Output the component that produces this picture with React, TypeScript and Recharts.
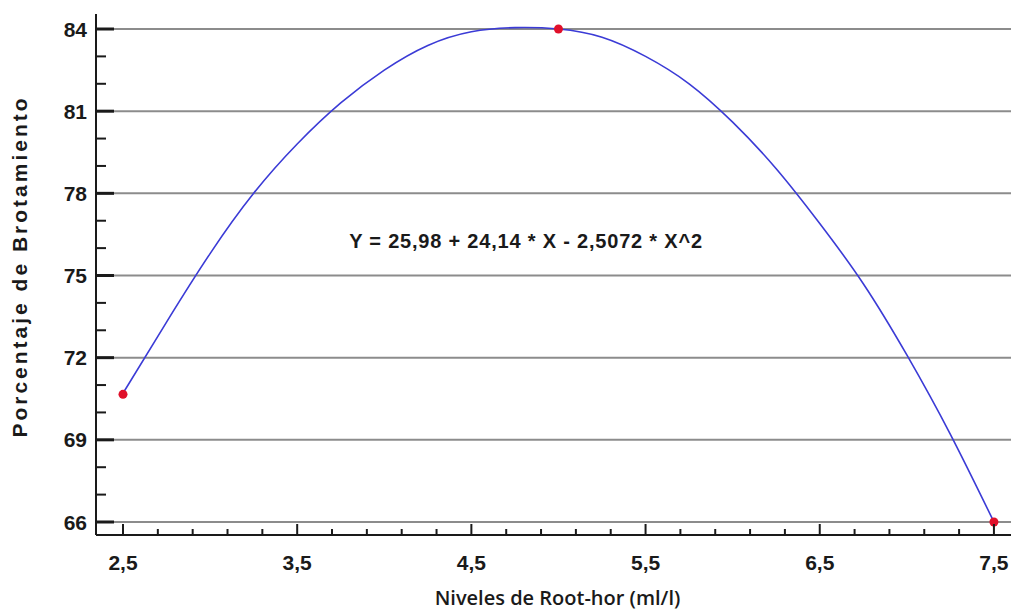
import { ComposedChart, Line, Scatter, XAxis, YAxis, ReferenceLine, Label } from "recharts"

// fitted curve
const curveX = [2.5, 2.75, 3.0, 3.25, 3.5, 3.75, 4.0, 4.25, 4.5, 4.75, 5.0, 5.25, 5.5, 5.75, 6.0, 6.25, 6.5, 6.75, 7.0, 7.25, 7.5]
const curveY = [70.7, 73.3, 75.8, 78.0, 79.8, 81.3, 82.5, 83.4, 83.9, 84.05, 84.0, 83.7, 83.0, 82.0, 80.6, 78.9, 76.9, 74.7, 72.1, 69.2, 66.0]

// observed means
const obsX = [2.5, 5.0, 7.5]
const obsY = [70.66, 84.0, 66.0]

const xTicks = [2.5, 2.7, 2.9, 3.1, 3.3, 3.5, 3.7, 3.9, 4.1, 4.3, 4.5, 4.7, 4.9, 5.1, 5.3, 5.5, 5.7, 5.9, 6.1, 6.3, 6.5, 6.7, 6.9, 7.1, 7.3, 7.5]
const yTicks = [66, 67, 68, 69, 70, 71, 72, 73, 74, 75, 76, 77, 78, 79, 80, 81, 82, 83, 84]
const gridY = [66, 69, 72, 75, 78, 81, 84]

const curve = curveX.map((x, i) => ({ x, y: curveY[i] }))
const obs = obsX.map((x, i) => ({ x, y: obsY[i] }))

const FONT = "'Liberation Sans', Arial, sans-serif"
const INK = "#1a1a1a"

const isMajorX = (v: number) => {
  const r = Math.abs(v - 2.5) % 1
  return r < 1e-6 || 1 - r < 1e-6
}
const isMajorY = (v: number) => (v - 66) % 3 === 0
const fmt = (v: number) => v.toFixed(1).replace(".", ",")

function BottomTick(p: any) {
  const v = p.payload.value
  const major = isMajorX(v)
  return (
    <g>
      <line x1={p.x} x2={p.x} y1={p.y} y2={p.y - (major ? 11 : 6)} stroke={INK} strokeWidth={2} />
      {major && (
        <text x={p.x} y={p.y + 35} textAnchor="middle" fontFamily={FONT} fontWeight="bold" fontSize={21} fill={INK}>
          {fmt(v)}
        </text>
      )}
    </g>
  )
}

function TopTick(p: any) {
  const major = isMajorX(p.payload.value)
  return <line x1={p.x} x2={p.x} y1={p.y} y2={p.y + (major ? 11 : 6)} stroke={INK} strokeWidth={2} />
}

function LeftTick(p: any) {
  const v = p.payload.value
  const major = isMajorY(v)
  return (
    <g>
      <line x1={p.x} x2={p.x + (major ? 18 : 10)} y1={p.y} y2={p.y} stroke={INK} strokeWidth={major ? 3 : 2} />
      {major && (
        <text x={p.x - 9} y={p.y} dy="0.36em" textAnchor="end" fontFamily={FONT} fontWeight="bold" fontSize={21} fill={INK}>
          {v}
        </text>
      )}
    </g>
  )
}

function RightTick(p: any) {
  const major = isMajorY(p.payload.value)
  return <line x1={p.x} x2={p.x - (major ? 9 : 3)} y1={p.y} y2={p.y} stroke={INK} strokeWidth={major ? 3 : 2} />
}

export default function App() {
  return (
    <div style={{ position: "absolute", left: 0, top: 0, background: "#fff" }}>
      <ComposedChart width={1012} height={611} data={curve} margin={{ top: 14, right: 1, bottom: 0, left: 0 }}>
        <XAxis
          xAxisId="b"
          type="number"
          dataKey="x"
          domain={[2.345, 7.598]}
          ticks={xTicks}
          interval={0}
          allowDataOverflow
          height={76}
          tickSize={0}
          tickMargin={0}
          tickLine={false}
          axisLine={{ stroke: INK, strokeWidth: 2 }}
          tick={(p: any) => <BottomTick {...p} />}
        >
          <Label
            value="Niveles de Root-hor (ml/l)"
            position="insideBottom"
            offset={6}
            dx={4}
            style={{ fontFamily: "'Open Sans', sans-serif", fontWeight: 600, fontSize: 20, fill: INK }}
          />
        </XAxis>
        <XAxis
          xAxisId="t"
          orientation="top"
          type="number"
          dataKey="x"
          domain={[2.345, 7.598]}
          ticks={xTicks}
          interval={0}
          allowDataOverflow
          height={0}
          tickSize={0}
          tickMargin={0}
          tickLine={false}
          axisLine={{ stroke: INK, strokeWidth: 2 }}
          tick={(p: any) => <TopTick {...p} />}
        />
        <YAxis
          yAxisId="l"
          type="number"
          domain={[65.525, 84.548]}
          ticks={yTicks}
          interval={0}
          allowDataOverflow
          width={96}
          tickSize={0}
          tickMargin={0}
          tickLine={false}
          axisLine={{ stroke: INK, strokeWidth: 2 }}
          tick={(p: any) => <LeftTick {...p} />}
        >
          <Label
            value="Porcentaje de Brotamiento"
            angle={-90}
            position="insideLeft"
            offset={20}
            dy={-8}
            style={{ textAnchor: "middle", fontFamily: FONT, fontWeight: "bold", fontSize: 21, letterSpacing: 3, fill: INK }}
          />
        </YAxis>
        <YAxis
          yAxisId="r"
          orientation="right"
          type="number"
          domain={[65.525, 84.548]}
          ticks={yTicks}
          interval={0}
          allowDataOverflow
          width={0}
          tickSize={0}
          tickMargin={0}
          tickLine={false}
          axisLine={{ stroke: INK, strokeWidth: 2 }}
          tick={(p: any) => <RightTick {...p} />}
        />
        {gridY.map((v) => (
          <ReferenceLine key={v} xAxisId="b" yAxisId="l" y={v} stroke="#8c8c8c" strokeWidth={2} />
        ))}
        <Line
          xAxisId="b"
          yAxisId="l"
          type="natural"
          dataKey="y"
          stroke="#3b3bd6"
          strokeWidth={1.6}
          dot={false}
          activeDot={false}
          isAnimationActive={false}
        />
        <Scatter
          xAxisId="b"
          yAxisId="l"
          data={obs}
          dataKey="y"
          fill="#e0102a"
          shape={(p: any) => <circle cx={p.cx} cy={p.cy} r={4.5} fill="#e0102a" />}
          isAnimationActive={false}
        />
        <text x={526} y={241} dy="0.36em" textAnchor="middle" fontFamily={FONT} fontWeight="bold" fontSize={20} letterSpacing={0.8} fill={INK}>
          Y = 25,98 + 24,14 * X - 2,5072 * X^2
        </text>
      </ComposedChart>
    </div>
  )
}
